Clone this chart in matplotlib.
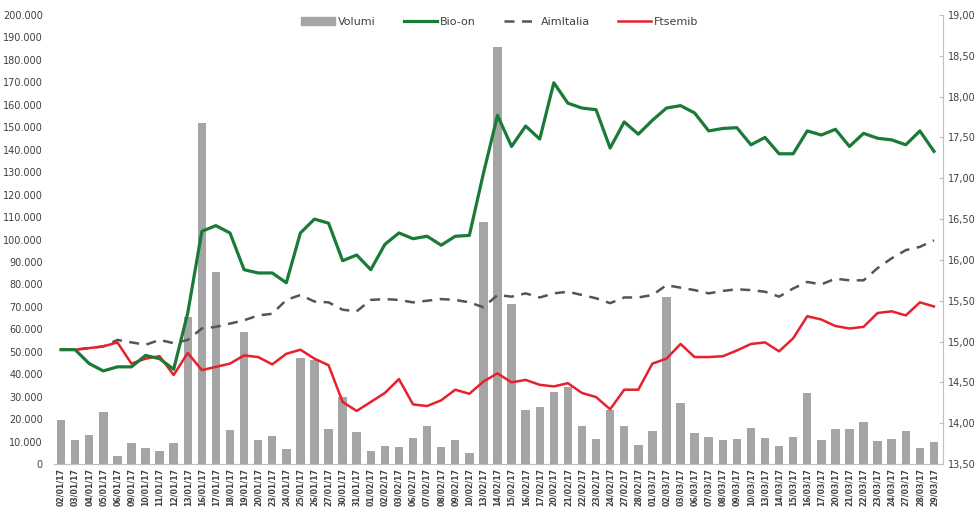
import matplotlib.pyplot as plt
import matplotlib.ticker as mticker
from matplotlib.patches import Patch
from matplotlib.lines import Line2D

# trading days Jan-Mar 2017
dates = ['02/01/17', '03/01/17', '04/01/17', '05/01/17', '06/01/17', '09/01/17', '10/01/17',
         '11/01/17', '12/01/17', '13/01/17', '16/01/17', '17/01/17', '18/01/17', '19/01/17',
         '20/01/17', '23/01/17', '24/01/17', '25/01/17', '26/01/17', '27/01/17', '30/01/17',
         '31/01/17', '01/02/17', '02/02/17', '03/02/17', '06/02/17', '07/02/17', '08/02/17',
         '09/02/17', '10/02/17', '13/02/17', '14/02/17', '15/02/17', '16/02/17', '17/02/17',
         '20/02/17', '21/02/17', '22/02/17', '23/02/17', '24/02/17', '27/02/17', '28/02/17',
         '01/03/17', '02/03/17', '03/03/17', '06/03/17', '07/03/17', '08/03/17', '09/03/17',
         '10/03/17', '13/03/17', '14/03/17', '15/03/17', '16/03/17', '17/03/17', '20/03/17',
         '21/03/17', '22/03/17', '23/03/17', '24/03/17', '27/03/17', '28/03/17', '29/03/17']

volumi = [19600, 10700, 13000, 23300, 3600, 9400, 7200, 5900, 9400, 65700,
          152000, 85700, 15100, 58800, 10700, 12400, 6700, 47300, 46400, 15500,
          30000, 14200, 5900, 8000, 7500, 11600, 17000, 7700, 10700, 4900,
          108000, 185600, 71300, 24000, 25400, 32200, 34500, 17000, 11000, 24000,
          17000, 8500, 14800, 74400, 27300, 13700, 12000, 10700, 11100, 16000,
          11700, 8200, 12200, 31800, 10700, 15600, 15600, 18900, 10300, 11100,
          14900, 7000, 9900]

bio_on = [14.90, 14.90, 14.73, 14.64, 14.69, 14.69, 14.83, 14.79, 14.66, 15.35,
          16.35, 16.42, 16.33, 15.88, 15.84, 15.84, 15.72, 16.33, 16.50, 16.45,
          15.99, 16.06, 15.88, 16.19, 16.33, 16.26, 16.29, 16.18, 16.29, 16.30,
          17.06, 17.77, 17.39, 17.64, 17.48, 18.17, 17.92, 17.86, 17.84, 17.37,
          17.69, 17.54, 17.71, 17.86, 17.89, 17.80, 17.58, 17.61, 17.62, 17.41,
          17.50, 17.30, 17.30, 17.58, 17.53, 17.60, 17.39, 17.55, 17.49, 17.47,
          17.41, 17.58, 17.33]

aim_italia = [14.90, 14.90, 14.92, 14.94, 15.02, 14.99, 14.96, 15.02, 14.98, 15.02,
              15.16, 15.18, 15.22, 15.26, 15.32, 15.34, 15.51, 15.57, 15.49, 15.48,
              15.39, 15.37, 15.51, 15.52, 15.51, 15.48, 15.50, 15.52, 15.51, 15.48,
              15.42, 15.57, 15.55, 15.59, 15.54, 15.59, 15.61, 15.57, 15.53, 15.47,
              15.54, 15.54, 15.57, 15.69, 15.66, 15.63, 15.59, 15.62, 15.64, 15.63,
              15.61, 15.55, 15.65, 15.73, 15.70, 15.77, 15.75, 15.75, 15.90, 16.02,
              16.12, 16.16, 16.24]

ftsemib = [14.90, 14.90, 14.92, 14.94, 14.99, 14.73, 14.79, 14.82, 14.59, 14.86,
           14.65, 14.69, 14.73, 14.83, 14.81, 14.72, 14.85, 14.90, 14.79, 14.71,
           14.26, 14.15, 14.26, 14.37, 14.54, 14.23, 14.21, 14.28, 14.41, 14.36,
           14.51, 14.61, 14.50, 14.53, 14.47, 14.45, 14.49, 14.37, 14.32, 14.17,
           14.41, 14.41, 14.73, 14.79, 14.97, 14.81, 14.81, 14.82, 14.89, 14.97,
           14.99, 14.88, 15.04, 15.31, 15.27, 15.19, 15.16, 15.18, 15.35, 15.37,
           15.32, 15.48, 15.43]

c_bar = '#a5a5a5'
c_green = '#1a7a38'
c_dash = '#555555'
c_red = '#e8202a'
c_text = '#404040'

fig = plt.figure(figsize=(9.76, 5.08), dpi=100)
ax = fig.add_axes([54 / 976, 44 / 508, 887 / 976, 449 / 508])
ax2 = ax.twinx()

x = list(range(len(dates)))
ax.bar(x, volumi, width=0.6, color=c_bar, zorder=1)
ax.set_ylim(0, 200000)
ax.set_xlim(-0.5, len(dates) - 0.5)
ax.yaxis.set_major_locator(mticker.MultipleLocator(10000))
ax.yaxis.set_major_formatter(mticker.FuncFormatter(lambda v, p: f'{int(v):,}'.replace(',', '.')))

ax2.plot(x, aim_italia, color=c_dash, lw=1.8, ls=(0, (4, 3)))
ax2.plot(x, ftsemib, color=c_red, lw=1.8)
ax2.plot(x, bio_on, color=c_green, lw=2.3)
ax2.set_ylim(13.5, 19.0)
ax2.yaxis.set_major_locator(mticker.MultipleLocator(0.5))
ax2.yaxis.set_major_formatter(mticker.FuncFormatter(lambda v, p: f'{v:.2f}'.replace('.', ',')))

ax.set_xticks(x)
ax.set_xticklabels(dates, rotation=90, fontsize=5.6, fontweight='bold', color=c_text)
ax.tick_params(axis='x', length=0, pad=3)
ax.tick_params(axis='y', length=0, labelsize=7, colors=c_text, pad=8)
ax2.tick_params(axis='y', length=3, direction='in', labelsize=7, colors=c_text, color='#c0c0c0')

for a in (ax, ax2):
    a.spines['top'].set_visible(False)
    a.spines['left'].set_visible(False)
    a.spines['bottom'].set_color('#c0c0c0')
    a.spines['right'].set_visible(False)
ax2.spines['right'].set_visible(True)
ax2.spines['right'].set_color('#c0c0c0')
ax2.spines['right'].set_position(('axes', 1.002))

handles = [Patch(color=c_bar), Line2D([], [], color=c_green, lw=2.3),
           Line2D([], [], color=c_dash, lw=1.8, ls=(0, (4, 3))), Line2D([], [], color=c_red, lw=1.8)]
fig.legend(handles, ['Volumi', 'Bio-on', 'AimItalia', 'Ftsemib'], loc='center',
           bbox_to_anchor=(500 / 976, 1 - 22 / 508), ncol=4, frameon=False,
           fontsize=8, handlelength=3, columnspacing=2.5, handletextpad=0.3,
           labelcolor=c_text)

fig.savefig('out.png', dpi=100)
